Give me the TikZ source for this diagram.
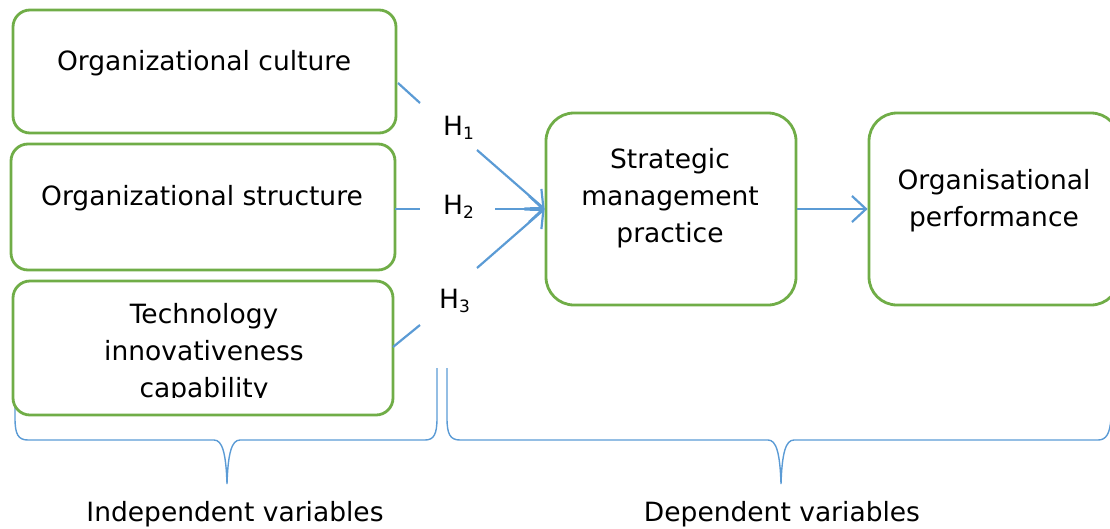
\documentclass[tikz,border=0pt]{standalone}
\usepackage{fontspec}
\setmainfont{DejaVu Sans}
\usetikzlibrary{arrows.meta,calc}
\definecolor{grn}{HTML}{70AD47}
\definecolor{lblue}{HTML}{5B9BD5}
\tikzset{
  gbox/.style={draw=grn, line width=2.8pt, rounded corners=17pt, fill=white, inner sep=0pt},
  bbox/.style={draw=grn, line width=2.8pt, rounded corners=28pt, fill=white, inner sep=0pt},
  txt/.style={font=\fontsize{26.5}{37}\selectfont, align=center, inner sep=0pt},
  hlab/.style={font=\fontsize{26.5}{30}\selectfont, inner sep=0pt, anchor=base west},
  conn/.style={draw=lblue, line width=2.2pt},
  arr/.style={draw=lblue, line width=2.2pt, -{Straight Barb[length=14pt,width=26pt,line width=2.2pt]}},
  brc/.style={draw=lblue, line width=1.4pt},
}
\newcommand{\hsub}[1]{H\raisebox{-4pt}{\fontsize{17}{17}\selectfont #1}}
\begin{document}
\begin{tikzpicture}[x=1pt,y=-1pt]
\useasboundingbox (0,0) rectangle (1110,528);
\begin{scope}
\clip (0,0) rectangle (1110,528);
% braces (behind boxes)
\draw[brc] (15,368) -- (15,418) .. controls (15,434) and (18,440) .. (28,440) -- (214,440)
  .. controls (222,440) and (226,452) .. (227,484)
  .. controls (228,452) and (232,440) .. (240,440) -- (425,440)
  .. controls (434,440) and (437,434) .. (437,418) -- (437,368);
\draw[brc] (447,368) -- (447,418) .. controls (447,434) and (450,440) .. (460,440) -- (768,440)
  .. controls (776,440) and (780,452) .. (781,484)
  .. controls (782,452) and (786,440) .. (794,440) -- (1098,440)
  .. controls (1106,440) and (1110,434) .. (1111,418) -- (1111,368);
% boxes
\node[gbox, minimum width=383pt, minimum height=123pt] (b1) at (204.5,71.5) {};
\node[gbox, minimum width=384pt, minimum height=126pt] (b2) at (203,207) {};
\node[gbox, minimum width=380pt, minimum height=134pt] (b3) at (203,348) {};
\node[bbox, minimum width=250pt, minimum height=192pt] (b4) at (671,209) {};
\node[bbox, minimum width=250pt, minimum height=192pt] (b5) at (994,209) {};
% texts (base anchor = baseline of last line)
\node[txt, anchor=base] (t1) at (204,70) {Organizational culture};
\node[txt, anchor=base] (t2) at (202,205) {Organizational structure};
\begin{scope}
\clip (13,281) rectangle (393,397);
\node[txt, anchor=base] (t3) at (204,397) {Technology\\innovativeness\\capability};
\end{scope}
\node[txt, anchor=base] (t4) at (670,242) {Strategic\\management\\practice};
\node[txt, anchor=base] (t5) at (994,226) {Organisational\\performance};
% hypothesis labels
\node[hlab] (h1) at (443,135) {\hsub{1}};
\node[hlab] (h2) at (443,214) {\hsub{2}};
\node[hlab] (h3) at (439,308) {\hsub{3}};
% connectors
\coordinate (s1a) at (398,83);  \coordinate (s1b) at (420,103); \coordinate (s1c) at (477,150);
\coordinate (s2a) at (395,209); \coordinate (s2b) at (420,209); \coordinate (s2c) at (495,209);
\coordinate (s3a) at (393,347); \coordinate (s3b) at (420,325); \coordinate (s3c) at (477,268);
\coordinate (tip) at (b4.west);
\draw[conn] (s1a) -- (s1b);
\draw[arr] (s1c) -- (tip);
\draw[conn] (s2a) -- (s2b);
\draw[arr] (s2c) -- (tip);
\draw[conn] (s3a) -- (s3b);
\draw[arr] (s3c) -- (tip);
\draw[arr] (b4.east) -- (b5.west);
% bottom labels
\node[txt, anchor=base] (l1) at (235,521) {Independent variables};
\node[txt, anchor=base] (l2) at (782,521) {Dependent variables};
\end{scope}
\end{tikzpicture}
\end{document}
